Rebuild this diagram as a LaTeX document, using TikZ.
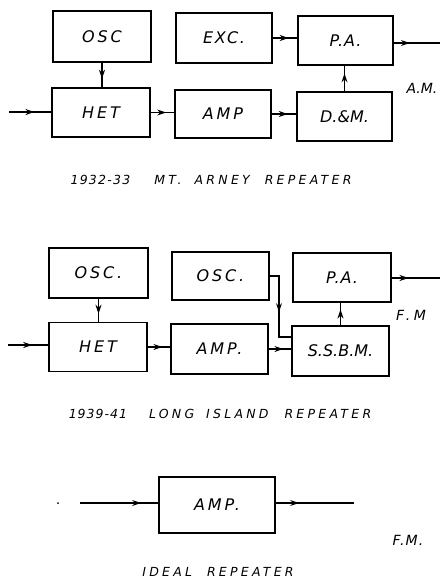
\documentclass[tikz,border=0pt]{standalone}
\usepackage{fontspec}
\setmainfont{DejaVu Sans}
\usetikzlibrary{arrows.meta,decorations.markings}
\newfontfamily\boxfont[LetterSpace=18]{DejaVu Sans}
\newfontfamily\titlefont[LetterSpace=26]{DejaVu Sans}
\newfontfamily\lblfont{DejaVu Sans}
\newcommand{\ls}[1]{\addfontfeature{LetterSpace=#1}}
\tikzset{
  x=1pt,y=-1pt,
  blk/.style={draw,line width=1.2pt,rectangle,inner sep=0pt,font=\boxfont\itshape\fontsize{16}{16}\selectfont},
  wire/.style={line width=1.3pt},
  arr/.style={wire,postaction={decorate},decoration={markings,mark=at position #1 with {\arrow{Stealth[length=9pt,width=6pt]}}}},
  ttl/.style={anchor=base,inner sep=0pt,font=\titlefont\itshape\fontsize{12.5}{12.5}\selectfont},
  lbl/.style={font=\lblfont\itshape\fontsize{14}{14}\selectfont}
}
\begin{document}
\begin{tikzpicture}
\useasboundingbox (0,0) rectangle (440,579);
% ---- top diagram
\node[blk,minimum width=98pt,minimum height=51pt] (osc1) at (102,36.5) {OSC};
\node[blk,minimum width=96pt,minimum height=50pt] (exc) at (224,38) {\ls{10}EXC.};
\node[blk,minimum width=95pt,minimum height=49pt] (pa1) at (345.5,40.5) {\ls{6}P.A.};
\node[blk,minimum width=98pt,minimum height=49pt] (het1) at (101,112.5) {HET};
\node[blk,minimum width=96pt,minimum height=48pt] (amp1) at (223,114) {AMP};
\node[blk,minimum width=95pt,minimum height=49pt] (dm) at (344.5,116.5) {\ls{0}D.\&M.};
\coordinate (in1) at (9,112);
\coordinate (out1) at (440,43);
\draw[arr=0.6] (in1) -- (in1 -| het1.west);
\draw[arr=0.65] (osc1.south) -- (osc1.south |- het1.north);
\draw[arr=0.65] (het1.east) -- (het1.east -| amp1.west);
\draw[arr=0.65] (amp1.east) -- (amp1.east -| dm.west);
\draw[arr=0.65] (exc.east) -- (exc.east -| pa1.west);
\draw[arr=0.7] (dm.north) -- (dm.north |- pa1.south);
\draw[arr=0.35] (pa1.east |- out1) -- (out1);
\node[lbl] (am) at (422,88) {A.M.};
\node[ttl] (t1) at (211,184) {{\ls{10}1932-33}\hspace{24pt}MT.\hspace{13pt}ARNEY\hspace{15pt}REPEATER};
% ---- middle diagram
\node[blk,minimum width=99pt,minimum height=50pt] (osc2) at (98.5,273) {OSC.};
\node[blk,minimum width=97pt,minimum height=48pt] (osc3) at (220.5,276) {OSC.};
\node[blk,minimum width=98pt,minimum height=49pt] (pa2) at (342,277.5) {\ls{6}P.A.};
\node[blk,minimum width=98pt,minimum height=49pt] (het2) at (98,347) {HET};
\node[blk,minimum width=97pt,minimum height=50pt] (amp2) at (219.5,349) {AMP.};
\node[blk,minimum width=97pt,minimum height=50pt] (ssbm) at (340.5,351) {\ls{0}S.S.B.M.};
\coordinate (in2) at (8,345);
\coordinate (out2) at (440,278);
\coordinate (bend) at (279,337);
\draw[arr=0.6] (in2) -- (in2 -| het2.west);
\draw[arr=0.65] (osc2.south) -- (osc2.south |- het2.north);
\draw[arr=0.65] (het2.east) -- (het2.east -| amp2.west);
\draw[arr=0.65] (amp2.east) -- (amp2.east -| ssbm.west);
\draw[arr=0.55] (osc3.east) -| (bend) -- (bend -| ssbm.west);
\draw[arr=0.7] (ssbm.north) -- (ssbm.north |- pa2.south);
\draw[arr=0.35] (pa2.east |- out2) -- (out2);
\node[lbl] (fm1) at (411,315) {\ls{25}F.M};
\node[ttl] (t2) at (220,418) {{\ls{8}1939-41}\hspace{22pt}LONG\hspace{12pt}ISLAND\hspace{16pt}REPEATER};
% ---- bottom diagram
\node[blk,minimum width=116pt,minimum height=56pt] (amp3) at (217,505) {AMP.};
\coordinate (dot) at (58,503);
\fill (dot) circle (1pt);
\coordinate (in3) at (80,503);
\coordinate (out3) at (354,503);
\draw[arr=0.78] (in3) -- (in3 -| amp3.west);
\draw[arr=0.3] (amp3.east |- out3) -- (out3);
\node[lbl] (fm2) at (408,540) {\ls{8}F.M.};
\node[ttl] (t3) at (218,576.5) {IDEAL\hspace{15pt}REPEATER};
\end{tikzpicture}
\end{document}
